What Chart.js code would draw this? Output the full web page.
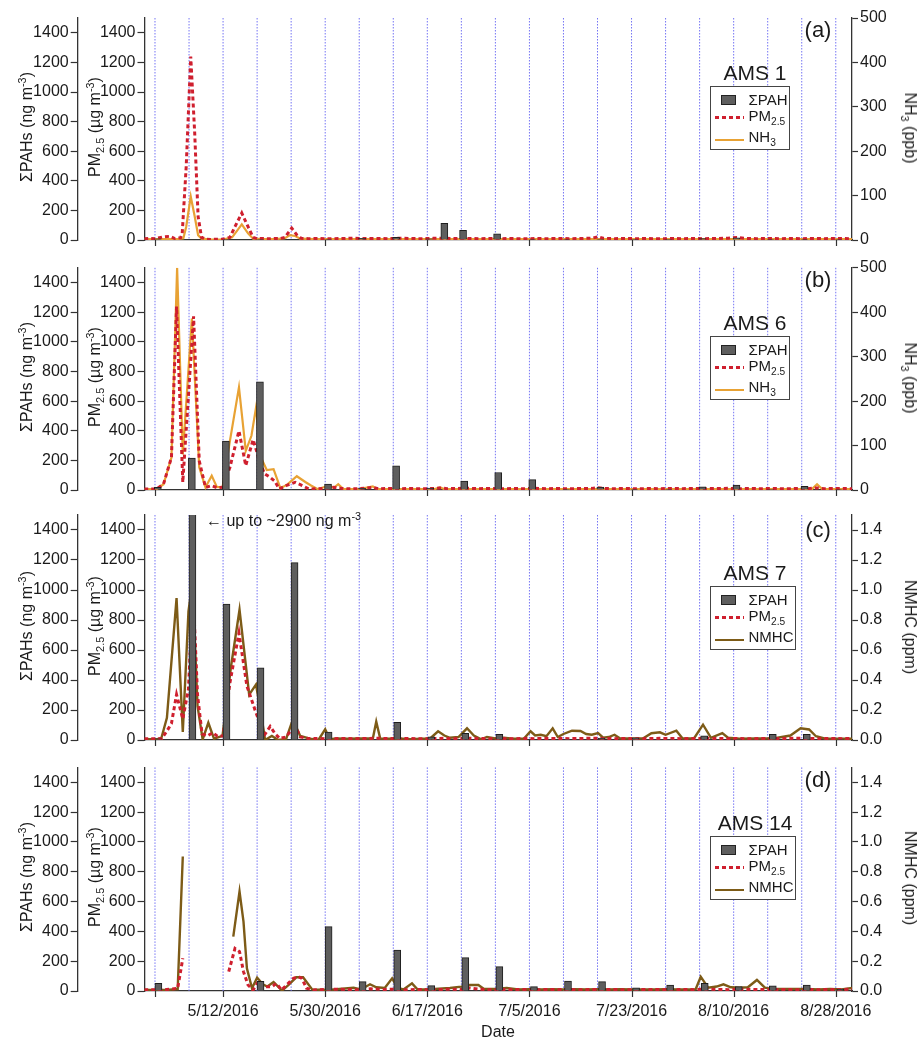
<!DOCTYPE html>
<html><head><meta charset="utf-8">
<script src="https://cdn.jsdelivr.net/npm/chart.js@4.4.1/dist/chart.umd.min.js"></script>
<style>
html,body{margin:0;padding:0;background:#fff;}
body{width:919px;height:1037px;position:relative;overflow:hidden;font-family:'Liberation Sans',Arial,sans-serif;color:#1a1a1a;}
.panel{position:absolute;left:0;width:919px;}
.panel canvas{position:absolute;left:0;top:0;}
.ttl{position:absolute;white-space:nowrap;font-size:16px;line-height:16px;}
.rotL{transform:translate(-50%,-50%) rotate(-90deg);}
.rotR{transform:translate(-50%,-50%) rotate(90deg);}
sup{font-size:0.68em;position:relative;top:-0.55em;vertical-align:baseline;line-height:0;}
sub{font-size:0.68em;position:relative;top:0.35em;vertical-align:baseline;line-height:0;}
.station{position:absolute;font-size:21px;line-height:21px;transform:translate(-50%,-50%);white-space:nowrap;}
.plabel{position:absolute;font-size:22px;line-height:22px;transform:translate(-50%,-50%);white-space:nowrap;}
.legend{position:absolute;border:1.5px solid #444;background:#fff;box-sizing:border-box;}
.legend .lt{position:absolute;left:38px;font-size:15px;line-height:16px;white-space:nowrap;}
.legend .sq{position:absolute;left:10px;width:15px;height:10px;background:#5e5e5e;border:1px solid #222;box-sizing:border-box;}
.legend .ln{position:absolute;left:4px;width:29px;}
.note{position:absolute;font-size:16px;line-height:16px;white-space:nowrap;transform:translateY(-50%);}
.xt{position:absolute;font-size:16px;line-height:16px;transform:translate(-50%,-50%);}
</style>
</head><body>
<script>
// ---------------- data (x = days after 4/30/2016) ----------------
const gridDays = [0,6,12,18,24,30,36,42,48,54,60,66,72,78,84,90,96,102,108,114,120];
const tickDays = [0,12,30,48,66,84,102,120];
const tickLabels = ['', '5/12/2016','5/30/2016','6/17/2016','7/5/2016','7/23/2016','8/10/2016','8/28/2016'];
const leftTicks = [0,200,400,600,800,1000,1200,1400];
const nh3Ticks = [0,100,200,300,400,500];
const nmhcTicks = [0,0.2,0.4,0.6,0.8,1.0,1.2,1.4];

// (a) AMS 1
const aPAH = [[0.5,8],[12.5,4],[18.5,5],[30.5,5],[36.5,12],[42.5,18],[48.3,8],[51.0,113],[54.3,66],[60.3,42],[66.5,3],[72.5,3],[78.5,5],[84.5,4],[90.5,4],[96.5,9],[102.5,15],[108.5,3],[114.5,3],[120.5,3]];
const aPM25 = [[-1.9,8],[-1,10],[0,8],[1.3,20],[2.6,25],[3.5,10],[4.5,15],[4.8,45],[5.5,496],[6.3,1240],[7.0,721],[7.6,158],[8.2,18],[9,5],[10,4],[11,5],[12,5],[13.2,18],[14.1,90],[15.3,182],[16.4,90],[17.3,18],[18,9],[19,10],[20,8],[21,10],[22,9],[22.9,18],[24.1,80],[25,34],[25.8,11],[27,9],[29,10],[31,8],[33,10],[35,12],[37,10],[39,11],[41,9],[43,12],[45,10],[47,9],[49,11],[51,12],[53,10],[55,11],[57,9],[59,10],[61,9],[63,10],[65,8],[67,10],[69,9],[71,10],[73,9],[75,10],[77,12],[78.1,22],[79,12],[81,9],[83,10],[85,9],[87,10],[89,8],[91,10],[93,9],[95,10],[97,9],[99,10],[101,12],[102.5,17],[104,11],[106,9],[108,10],[110,9],[112,10],[114,9],[116,10],[118,9],[120,10],[122.9,9]];
const aNH3 = [[-1.9,2],[0,2],[2,2],[4,2],[5.0,4],[5.5,30],[6.3,98],[7.0,53],[7.6,11],[8.2,3],[10,1],[12,1],[13.6,6],[15.3,35],[16.4,15],[17.3,3],[19,2],[21,2],[22.9,4],[23.8,11],[24.7,9],[25.6,3],[28,2],[40,2],[60,2],[80,2],[100,2],[122.9,2]];

// (b) AMS 6
const bPAH = [[0.5,18],[6.5,215],[12.5,331],[18.5,730],[30.5,40],[36.5,11],[42.5,163],[48.5,13],[54.5,60],[60.5,118],[66.5,70],[72.5,5],[78.5,20],[84.5,5],[90.5,5],[96.5,22],[102.5,33],[108.5,3],[114.5,24],[120.5,3]];
const bPM25 = [[-1.9,7],[0.3,7],[1.5,40],[2.9,220],[3.8,1238],[4.9,52],[6.8,1172],[7.8,197],[8.9,18],[10,29],[11,15],[11.9,18],[13.2,152],[14.8,399],[16,165],[17.3,340],[18.4,200],[19.3,110],[20.2,88],[21.1,60],[21.9,7],[23.1,29],[24.7,52],[26,29],[27.1,7],[28.5,8],[30,10],[31.5,18],[32.7,12],[34,8],[36,9],[38.4,18],[39.5,8],[41,10],[43,9],[45,10],[47,8],[49,10],[50.2,14],[51.5,9],[53,10],[55,12],[57,9],[59,10],[61,8],[63,10],[65,9],[67,11],[69,9],[71,10],[73,8],[75,10],[77,11],[78,16],[79,10],[81,9],[83,10],[85,8],[87,10],[89,9],[91,10],[93,9],[95,10],[97,9],[99,10],[101,11],[103,9],[105,10],[107,9],[109,10],[111,8],[113,10],[115,9],[116.7,14],[118,9],[120,10],[122.9,9]];
const bNH3 = [[-1.9,2],[0.3,2],[1.5,13],[2.9,73],[3.9,500],[4.9,80],[6.5,386],[7.8,51],[8.9,6],[10,32],[10.9,7],[11.9,6],[13.2,110],[14.8,231],[16,88],[17,122],[17.8,185],[18.8,70],[19.7,45],[20.9,47],[22.1,4],[23.3,12],[25,31],[26.5,18],[27.5,10],[28.7,2],[30.7,10],[31.5,5],[32.3,13],[33.2,2],[36,2],[38.4,8],[39.2,2],[45,2],[49.3,2],[50.2,6],[51,2],[60,2],[70,2],[80,2],[90,2],[100,2],[110,2],[115.8,2],[116.7,13],[117.6,2],[122.9,2]];

// (c) AMS 7
const cPAH = [[0.6,8],[6.6,2900],[12.6,906],[18.6,481],[24.6,1183],[30.6,53],[42.7,118],[48.7,21],[54.7,44],[60.7,38],[72.7,5],[78.7,12],[84.7,15],[90.7,3],[96.8,28],[102.8,5],[108.9,38],[114.9,38],[120.8,3]];
const cPM25 = [[-1.9,8],[0.3,8],[1.2,10],[2.1,60],[2.9,110],[3.8,303],[4.9,140],[5.9,340],[6.7,1000],[7.5,300],[8.3,40],[9.2,27],[10.2,49],[11,25],[12,27],[13.2,380],[14.8,713],[16.2,360],[17.6,204],[18.6,100],[19.4,40],[20.3,90],[21.2,40],[22,10],[23.1,20],[24.1,70],[24.9,80],[25.6,20],[27,10],[29,10],[31,8],[33,10],[35,9],[37,10],[39,12],[41,10],[43,9],[45,10],[47,8],[49,10],[51,11],[53,9],[55,12],[57,10],[59,9],[61,10],[63,8],[65,10],[67,9],[69,11],[71,10],[73,9],[75,10],[77,12],[79,10],[81,9],[83,10],[85,8],[87,10],[89,11],[91,10],[93,9],[95,10],[97,12],[99,10],[101,9],[103,10],[105,8],[107,10],[109,9],[111,10],[113,12],[115,10],[117,9],[119,10],[121,9],[122.9,10]];
const cNMHC = [[-1.9,0.005],[0.3,0.005],[1.1,0.01],[2.1,0.148],[3.8,0.946],[4.9,0.053],[5.9,0.857],[6.6,1.05],[7.5,0.226],[8.4,0.004],[9.4,0.115],[10.4,0.009],[11.9,0.027],[13.4,0.49],[14.9,0.868],[16.6,0.303],[17.8,0.37],[18.6,0.2],[19.4,0.0],[20.6,0.027],[21.7,0.0],[23.1,0.005],[24.3,0.137],[25.6,0.027],[27.3,0.009],[28.8,0.0],[30,0.071],[30.8,0.005],[32,0.01],[34,0.008],[36,0.01],[38.4,0.01],[39,0.122],[39.7,0.01],[41,0.008],[43,0.01],[45,0.006],[47,0.008],[48.5,0.01],[49.9,0.058],[51,0.03],[52,0.015],[53.5,0.02],[55,0.078],[56.2,0.03],[57.5,0.005],[58.5,0.02],[60,0.01],[61.5,0.015],[63,0.008],[65,0.008],[66.2,0.058],[67,0.03],[68,0.035],[69,0.025],[70.1,0.078],[71,0.02],[72,0.04],[73.5,0.062],[75,0.06],[76,0.04],[77,0.035],[78.1,0.046],[79,0.015],[80,0.02],[81,0.035],[82,0.01],[84,0.01],[86,0.01],[87.5,0.045],[89,0.051],[90,0.035],[91.9,0.062],[93,0.01],[95,0.01],[96.6,0.102],[98,0.015],[100,0.046],[101,0.015],[103,0.008],[106,0.01],[109,0.01],[112,0.03],[113.8,0.078],[115.3,0.07],[116.5,0.025],[118,0.01],[120,0.008],[122.9,0.008]];

// (d) AMS 14
const dPAH = [[0.6,51],[18.6,65],[30.6,432],[36.6,63],[42.7,275],[48.7,36],[54.7,224],[60.7,163],[66.8,29],[72.8,67],[78.8,63],[84.8,22],[90.8,40],[96.9,51],[102.9,29],[108.9,34],[114.9,40],[120.8,13]];
const dPM25 = [[-1.9,8],[0.3,8],[2,10],[4.0,18],[4.9,219],[9,null],[13.0,130],[14.1,286],[14.9,264],[15.6,130],[16.4,40],[17.3,7],[18.2,63],[19.1,29],[20.6,29],[21.4,51],[22.3,7],[23.2,40],[24.4,85],[25.3,96],[25.9,85],[26.7,18],[27.9,7],[30,10],[32,12],[34,10],[36,8],[38,15],[40,10],[42,12],[44,8],[46,10],[48,9],[50,10],[52,12],[54,10],[55.5,20],[57,12],[59,8],[61,10],[63,9],[65,10],[67,8],[69,10],[71,9],[73,10],[75,8],[77,10],[79,9],[81,10],[83,8],[85,10],[87,9],[89,10],[91,8],[93,10],[95,9],[97,12],[99,10],[101,9],[103,10],[105,11],[107,10],[109,9],[111,10],[113,8],[115,10],[117,9],[119,10],[121,9],[122.9,12]];
const dNMHC = [[-1.9,0.007],[0.3,0.007],[2,0.007],[4.0,0.013],[4.9,0.902],[9,null],[13.8,0.365],[14.9,0.667],[15.6,0.465],[16.2,0.152],[17.1,0.018],[18.0,0.09],[19.0,0.045],[19.8,0.03],[20.9,0.06],[22.4,0.003],[23.5,0.04],[24.9,0.092],[26.1,0.092],[27.7,0.011],[29,0.008],[31,0.008],[33,0.015],[35,0.022],[36.3,0.01],[37.9,0.045],[39,0.025],[40.5,0.02],[41.8,0.085],[42.8,0.02],[43.8,0.01],[45.3,0.051],[46.3,0.01],[48,0.01],[50,0.015],[52,0.02],[54,0.029],[55.5,0.04],[57,0.04],[58,0.013],[60,0.013],[62,0.02],[64,0.01],[66,0.012],[68,0.01],[70,0.012],[72,0.01],[74,0.012],[76,0.01],[78,0.012],[80,0.01],[82,0.012],[84,0.01],[86,0.01],[88,0.01],[90,0.012],[92,0.01],[94,0.01],[95.3,0.012],[96.2,0.096],[97.5,0.022],[99,0.03],[100.2,0.045],[101.5,0.025],[103,0.022],[104.5,0.025],[106.1,0.074],[107.5,0.022],[109,0.013],[111,0.013],[113,0.013],[115,0.013],[117,0.01],[119,0.013],[121,0.01],[122.9,0.02]];

// ---------------- styling / layout ----------------
const RED = '#cf1f2e', ORANGE = '#e8a234', BROWN = '#7d5b17', GRIDBLUE = '#7474f4';
const XMIN = -1.85, XMAX = 122.86;
Chart.defaults.font.family = "'Liberation Sans', Arial, sans-serif";
Chart.defaults.color = '#1a1a1a';

// dotted guide lines at every sampling day and outward tick marks at labelled dates, both placed through the x scale
const dayLines = {
  id: 'dayLines',
  beforeDatasetsDraw(chart) {
    const {ctx, chartArea, scales} = chart;
    ctx.save();
    ctx.strokeStyle = GRIDBLUE;
    ctx.lineWidth = 1;
    ctx.setLineDash([1.5, 1.5]);
    gridDays.forEach(v => {
      const x = scales.x.getPixelForValue(v);
      ctx.beginPath();
      ctx.moveTo(x, chartArea.top);
      ctx.lineTo(x, chartArea.bottom);
      ctx.stroke();
    });
    ctx.restore();
  },
  afterDraw(chart) {
    const {ctx, chartArea, scales} = chart;
    ctx.save();
    ctx.strokeStyle = '#333';
    ctx.lineWidth = 1.2;
    tickDays.forEach(v => {
      const x = Math.round(scales.x.getPixelForValue(v)) + 0.5;
      ctx.beginPath();
      ctx.moveTo(x, chartArea.bottom);
      ctx.lineTo(x, chartArea.bottom + 6);
      ctx.stroke();
    });
    ctx.restore();
  }
};

const panels = [
  {tag:'(a)', station:'AMS 1', top:0, h:250, padTop:18, xH:10, pah:aPAH, pm:aPM25, gas:aNH3, gasName:'NH3'},
  {tag:'(b)', station:'AMS 6', top:250, h:250, padTop:17.8, xH:9, pah:bPAH, pm:bPM25, gas:bNH3, gasName:'NH3'},
  {tag:'(c)', station:'AMS 7', top:500, h:250, padTop:15, xH:9.3, pah:cPAH, pm:cPM25, gas:cNMHC, gasName:'NMHC'},
  {tag:'(d)', station:'AMS 14', top:750, h:287, padTop:17.4, xH:46, pah:dPAH, pm:dPM25, gas:dNMHC, gasName:'NMHC'}
];

const toXY = arr => arr.map(p => ({x:p[0], y:p[1]}));

panels.forEach((p, idx) => {
  const isLast = idx === 3;
  const isNH3 = p.gasName === 'NH3';
  const gasColor = isNH3 ? ORANGE : BROWN;
  const div = document.createElement('div');
  div.className = 'panel';
  div.style.top = p.top + 'px';
  div.style.height = p.h + 'px';
  document.body.appendChild(div);
  const cv = document.createElement('canvas');
  cv.width = 919; cv.height = p.h;
  cv.style.width = '919px'; cv.style.height = p.h + 'px';
  div.appendChild(cv);

  const yCommon = (w, weight, ticksArr, fmt, pos) => ({
    type: 'linear', position: pos, weight: weight, min: 0,
    max: ticksArr === nh3Ticks ? 500 : (ticksArr === nmhcTicks ? 1.5 : 1500), bounds: 'data', offset: false,
    afterBuildTicks: s => { s.ticks = ticksArr.map(v => ({value: v})); },
    afterFit: s => { s.width = w; },
    ticks: {padding: 2, font: {size: 16, lineHeight: 1}, color: '#1a1a1a', callback: fmt},
    grid: {display: true, offset: false, drawOnChartArea: false, drawTicks: true, tickLength: pos === 'right' ? 6 : 7, tickColor: '#333', tickWidth: 1.2, color: '#333'},
    border: {display: true, color: '#333', width: 1.3}
  });

  new Chart(cv.getContext('2d'), {
    type: 'line',
    plugins: [dayLines],
    data: {datasets: [
      {type: 'bar', label: 'ΣPAH', data: toXY(p.pah), xAxisID: 'x', yAxisID: 'yPah',
       backgroundColor: '#5e5e5e', borderColor: '#1e1e1e', borderWidth: 1, barThickness: 7, order: 0},
      {type: 'line', label: 'PM2.5', data: toXY(p.pm), xAxisID: 'x', yAxisID: 'yPm',
       borderColor: RED, borderWidth: 3, borderDash: [4, 3], pointRadius: 0, tension: 0, spanGaps: false, order: 1, fill: false},
      {type: 'line', label: p.gasName, data: toXY(p.gas), xAxisID: 'x', yAxisID: 'yGas',
       borderColor: gasColor, borderWidth: isNH3 ? 2.2 : 2.4, pointRadius: 0, tension: 0, spanGaps: false, order: 2, fill: false}
    ]},
    options: {
      responsive: false, maintainAspectRatio: false, animation: false, devicePixelRatio: 1,
      layout: {padding: {top: p.padTop, left: 0, right: 0, bottom: 0}},
      plugins: {legend: {display: false}, tooltip: {enabled: false}},
      scales: {
        x: {
          type: 'linear', position: 'bottom', min: XMIN, max: XMAX, bounds: 'data', offset: false,
          afterBuildTicks: s => { s.ticks = tickDays.map(v => ({value: v})); },
          afterFit: s => { s.height = p.xH; s.paddingLeft = 0; s.paddingRight = 0; },
          ticks: {autoSkip: false, maxRotation: 0, minRotation: 0, padding: 11, font: {size: 16}, color: '#1a1a1a',
                  display: isLast,
                  callback: v => { const i = tickDays.indexOf(v); return i >= 0 ? tickLabels[i] : ''; }},
          grid: {display: false, drawOnChartArea: false, drawTicks: false},
          border: {display: true, color: '#333', width: 1.3}
        },
        yPah: yCommon(77.7, 2, leftTicks, v => String(v), 'left'),
        yPm: yCommon(66.8, 1, leftTicks, v => String(v), 'left'),
        yGas: yCommon(67, 1, isNH3 ? nh3Ticks : nmhcTicks, v => isNH3 ? String(v) : v.toFixed(1), 'right')
      }
    }
  });

  const plotMid = (p.padTop + (p.h - p.xH)) / 2 - 2;
  const add = (cls, html, css) => { const e = document.createElement('div'); e.className = cls; e.innerHTML = html; Object.assign(e.style, css); div.appendChild(e); return e; };
  add('ttl rotL', 'ΣPAHs (ng m<sup>-3</sup>)', {left: '27px', top: plotMid + 'px'});
  add('ttl rotL', 'PM<sub>2.5</sub> (µg m<sup>-3</sup>)', {left: '95px', top: plotMid + 'px'});
  add('ttl rotR', isNH3 ? 'NH<sub>3</sub> (ppb)' : 'NMHC (ppm)', {left: '910px', top: (plotMid + 1) + 'px'});
  add('plabel', p.tag, {left: '818px', top: '30px'});
  add('station', p.station, {left: '755px', top: '72px'});
  const lw = isNH3 ? 80 : 86;
  const lg = add('legend', '', {left: '709.5px', top: '86px', width: lw + 'px', height: '64px'});
  lg.innerHTML =
    '<div class="sq" style="top:8px"></div><div class="lt" style="top:5px">ΣPAH</div>' +
    '<div class="ln" style="top:29px;height:3px;background:repeating-linear-gradient(to right,' + RED + ' 0 4px,transparent 4px 7px)"></div>' +
    '<div class="lt" style="top:21px">PM<sub>2.5</sub></div>' +
    '<div class="ln" style="top:52px;height:2px;background:' + gasColor + '"></div>' +
    '<div class="lt" style="top:42px">' + (isNH3 ? 'NH<sub>3</sub>' : 'NMHC') + '</div>';
  if (idx === 2) add('note', '← up to ~2900 ng m<sup>-3</sup>', {left: '206px', top: '21px'});
  if (isLast) add('xt', 'Date', {left: '498px', top: '282px'});
});
</script>
</body></html>
